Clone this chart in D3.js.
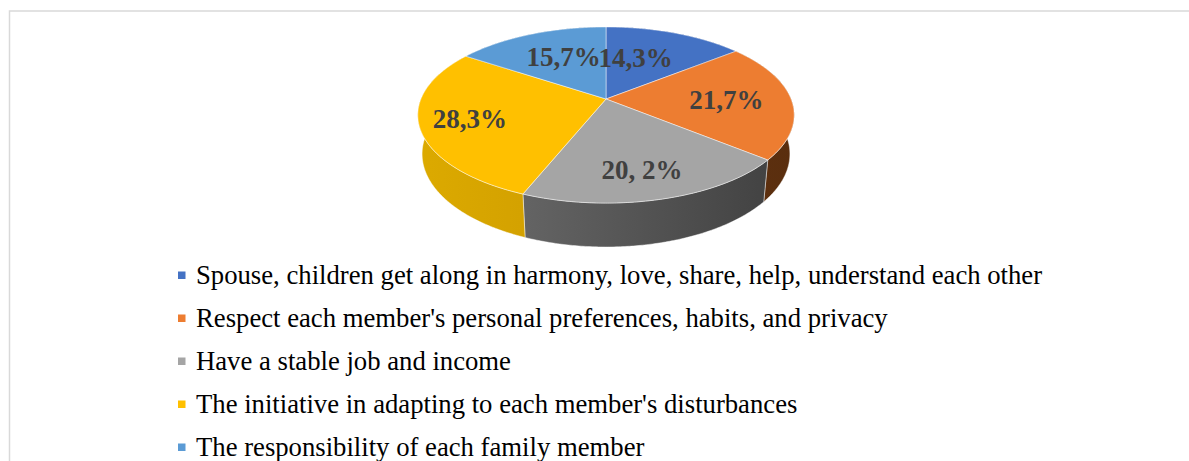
<!DOCTYPE html>
<html>
<head>
<meta charset="utf-8">
<script src="https://cdn.jsdelivr.net/npm/d3@7"></script>
<style>
  html, body { margin: 0; padding: 0; background: #fff; }
  svg { display: block; }
</style>
</head>
<body>
<svg id="chart" width="1189" height="461"></svg>
<script>
// Survey answers: what keeps a family happy (share of respondents, %)
const categories = [
  "Spouse, children get along in harmony, love, share, help, understand each other",
  "Respect each member's personal preferences, habits, and privacy",
  "Have a stable job and income",
  "The initiative in adapting to each member's disturbances",
  "The responsibility of each family member"
];
const values = [14.3, 21.7, 20.2, 28.3, 15.7];
const valueLabels = ["14,3%", "21,7%", "20, 2%", "28,3%", "15,7%"];

// Slice styling
const topColors = ["#4472C4", "#ED7D31", "#A5A5A5", "#FFC000", "#5B9BD5"];
const sideLight = ["#3a63ad", "#6e3a14", "#727272", "#dcaa00", "#4f88bd"];
const sideDark  = ["#28457a", "#5a2e0e", "#3f3f3f", "#bf8d00", "#3a6690"];
const labelRadius = [0.45, 0.65, 0.74, 0.74, 0.62];
const labelDx = [-4, 0, -3, 0, 7];
const labelDy = [-9, 0, 0, 0, 0];

const svg = d3.select("#chart");

// Chart area frame
svg.append("rect")
  .attr("x", 9.5).attr("y", 11)
  .attr("width", 1300).attr("height", 600)
  .attr("fill", "#fff")
  .attr("stroke", "#d9d9d9").attr("stroke-width", 1.5);

// Perspective view of a tilted disc
const cx = 606, cy = 99;
const D = 4.88, F = 903;
const sinE = 0.46, cosE = Math.sqrt(1 - sinE * sinE);
const thick = 0.239;

function project(angle, r, h) {
  const u = r * Math.sin(angle);
  const z = -r * Math.cos(angle);
  const depth = D - h * sinE - z * cosE;
  return [cx + F * u / depth, cy + F * (z * sinE - h * cosE) / depth];
}

const pie = d3.pie().sort(null).value(d => d)
  .startAngle(0).endAngle(2 * Math.PI);
const arcs = pie(values);

function arcPoints(a0, a1, r, h) {
  const n = Math.max(2, Math.ceil((a1 - a0) / 0.01));
  return d3.range(n + 1).map(i => project(a0 + (a1 - a0) * i / n, r, h));
}

const line = d3.line();
const defs = svg.append("defs");

// Side gradients run left to right across the disc
arcs.forEach((a, i) => {
  const g = defs.append("linearGradient")
    .attr("id", "side" + i)
    .attr("gradientUnits", "userSpaceOnUse")
    .attr("x1", cx - 190).attr("x2", cx + 190)
    .attr("y1", 0).attr("y2", 0);
  g.append("stop").attr("offset", "0%").attr("stop-color", sideLight[i]);
  g.append("stop").attr("offset", "100%").attr("stop-color", sideDark[i]);
});

const pieG = svg.append("g");

// Outer walls
pieG.selectAll("path.wall")
  .data(arcs)
  .join("path")
  .attr("class", "wall")
  .attr("d", a => {
    const topEdge = arcPoints(a.startAngle, a.endAngle, 1, 0);
    const botEdge = arcPoints(a.startAngle, a.endAngle, 1, -thick).reverse();
    return line(topEdge.concat(botEdge)) + "Z";
  })
  .attr("fill", (a, i) => `url(#side${i})`)
  .attr("stroke", "rgba(255,255,255,0.55)")
  .attr("stroke-width", 0.8);

// Top faces
pieG.selectAll("path.top")
  .data(arcs)
  .join("path")
  .attr("class", "top")
  .attr("d", a => {
    const pts = [project(0, 0, 0)].concat(arcPoints(a.startAngle, a.endAngle, 1, 0));
    return line(pts) + "Z";
  })
  .attr("fill", (a, i) => topColors[i])
  .attr("stroke", "rgba(255,255,255,0.6)")
  .attr("stroke-width", 0.8);

// Value labels
pieG.selectAll("text.val")
  .data(arcs)
  .join("text")
  .attr("class", "val")
  .attr("transform", (a, i) => {
    const mid = (a.startAngle + a.endAngle) / 2;
    const p = project(mid, labelRadius[i], 0);
    return `translate(${p[0] + labelDx[i]},${p[1] + labelDy[i]})`;
  })
  .attr("text-anchor", "middle")
  .attr("dy", "0.35em")
  .attr("font-family", "'Liberation Serif', 'Times New Roman', serif")
  .attr("font-weight", "bold")
  .attr("font-size", 27)
  .attr("fill", "#404040")
  .text((a, i) => valueLabels[i]);

// Legend
const legendY = d3.scalePoint()
  .domain(categories)
  .range([275, 447]);

const legend = svg.append("g")
  .selectAll("g")
  .data(categories)
  .join("g")
  .attr("transform", d => `translate(178,${legendY(d)})`);

legend.append("rect")
  .attr("x", 0).attr("y", -3.5)
  .attr("width", 7.5).attr("height", 7.5)
  .attr("fill", (d, i) => topColors[i]);

legend.append("text")
  .attr("x", 18)
  .attr("dy", "0.35em")
  .attr("font-family", "'Liberation Serif', 'Times New Roman', serif")
  .attr("font-size", 26.7)
  .attr("fill", "#000")
  .text(d => d);
</script>
</body>
</html>
